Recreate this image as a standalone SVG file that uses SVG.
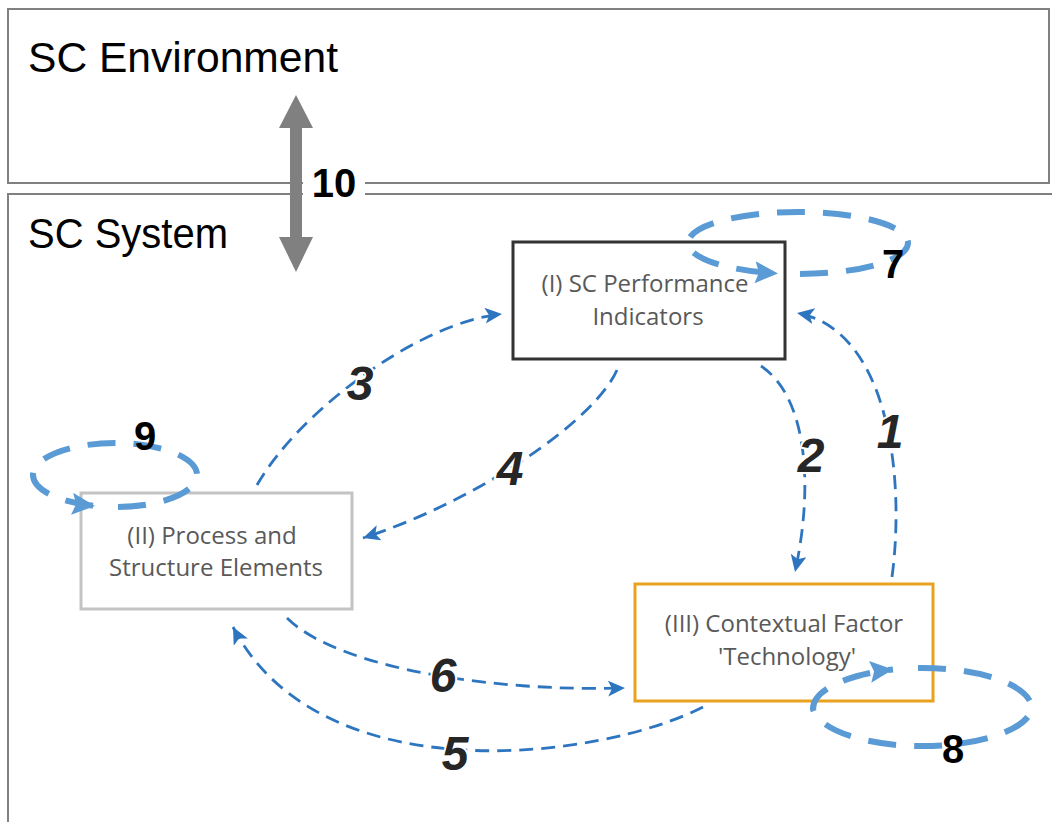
<svg xmlns="http://www.w3.org/2000/svg" width="1052" height="822" viewBox="0 0 1052 822">
  <style>
    .frame { fill: none; stroke: #808080; stroke-width: 2; }
    .area-title { font-family: "Liberation Sans", Arial, sans-serif; font-size: 42px; fill: #000; }
    .node-text { font-family: "Open Sans", "Liberation Sans", sans-serif; font-size: 24px; fill: #595959; text-anchor: middle; }
    .link { fill: none; stroke: #2e75c0; stroke-width: 2.8; stroke-dasharray: 14 8; marker-end: url(#head); }
    .loop { fill: none; stroke: #5b9bd5; stroke-width: 6; stroke-dasharray: 28 18; marker-end: url(#loophead); }
    .num { font-family: "Liberation Sans", Arial, sans-serif; font-size: 48px; font-weight: bold; font-style: italic; fill: #262626; text-anchor: middle; stroke: #fff; stroke-width: 4; paint-order: stroke; }
    .num-up { font-family: "Liberation Sans", Arial, sans-serif; font-size: 40px; font-weight: bold; fill: #000; text-anchor: middle; }
  </style>
  <defs>
    <marker id="head" markerUnits="userSpaceOnUse" markerWidth="18" markerHeight="16" refX="17" refY="8" orient="auto">
      <path d="M0,0 L17,8 L0,16 L4,8 Z" fill="#2e75c0"/>
    </marker>
    <marker id="loophead" markerUnits="userSpaceOnUse" markerWidth="24" markerHeight="22" refX="23" refY="11" orient="auto">
      <path d="M0,0 L23,11 L0,22 L4,11 Z" fill="#5b9bd5"/>
    </marker>
  </defs>

  <rect width="1052" height="822" fill="#fff"/>

  <!-- environment and system areas -->
  <g id="sc-environment">
    <rect class="frame" x="8" y="9" width="1041" height="174"/>
    <text class="area-title" x="28" y="72" textLength="310" lengthAdjust="spacingAndGlyphs">SC Environment</text>
  </g>
  <g id="sc-system">
    <path class="frame" d="M8,822 L8,194 L1052,194"/>
    <text class="area-title" x="28" y="248" textLength="200" lengthAdjust="spacingAndGlyphs">SC System</text>
  </g>

  <!-- exchange between system and environment -->
  <g id="exchange-10">
    <rect x="303" y="176" width="62" height="24" fill="#fff"/>
    <path d="M296,95 L313,128 L302,128 L302,237 L313,237 L296,272 L279,237 L290,237 L290,128 L279,128 Z" fill="#808080"/>
    <text class="num-up" x="334" y="197">10</text>
  </g>

  <!-- nodes -->
  <g id="node-performance">
    <rect x="513" y="242" width="272" height="117" fill="#fff" stroke="#333" stroke-width="3"/>
    <text class="node-text" x="645" y="292">(I) SC Performance</text>
    <text class="node-text" x="648" y="325">Indicators</text>
  </g>
  <g id="node-process">
    <rect x="81" y="493" width="271" height="116" fill="#fff" stroke="#c3c3c3" stroke-width="3"/>
    <text class="node-text" x="212" y="544">(II) Process and</text>
    <text class="node-text" x="216" y="576">Structure Elements</text>
  </g>
  <g id="node-technology">
    <rect x="635" y="584" width="298" height="117" fill="#fff" stroke="#e8a21e" stroke-width="3"/>
    <text class="node-text" x="784" y="632">(III) Contextual Factor</text>
    <text class="node-text" x="787" y="665">'Technology'</text>
  </g>

  <!-- connectors between nodes -->
  <g id="connectors">
    <path class="link" d="M892,577 C905,480 890,330 797,313"/>
    <path class="link" d="M761,366 C805,395 815,480 795,572"/>
    <path class="link" d="M257,485 C300,410 420,322 502,314"/>
    <path class="link" d="M617,370 C595,420 480,500 363,538"/>
    <path class="link" d="M703,707 C600,760 320,795 233,627"/>
    <path class="link" d="M287,618 C340,670 500,692 625,688"/>
    <path class="loop" d="M800,274 A110,31 0 0 0 908,243 A110,31 0 0 0 688,243 A110,31 0 0 0 778,273.4"/>
    <path class="loop" d="M118,507 A82,32 0 0 0 197,475 A82,32 0 0 0 33,475 A82,32 0 0 0 95,506"/>
    <path class="loop" d="M918,668 A110,41 0 0 1 1032,709 A110,41 0 0 1 813,709 A110,41 0 0 1 893,669.5"/>
  </g>

  <!-- connector labels -->
  <g id="labels">
    <text class="num" x="890" y="448">1</text>
    <text class="num" x="811" y="472">2</text>
    <text class="num" x="360" y="400">3</text>
    <text class="num" x="510" y="485">4</text>
    <text class="num" x="455" y="770">5</text>
    <text class="num" x="443" y="692">6</text>
    <text class="num-up" x="893" y="278">7</text>
    <text class="num-up" x="953" y="763">8</text>
    <text class="num-up" x="145" y="450">9</text>
  </g>
</svg>
